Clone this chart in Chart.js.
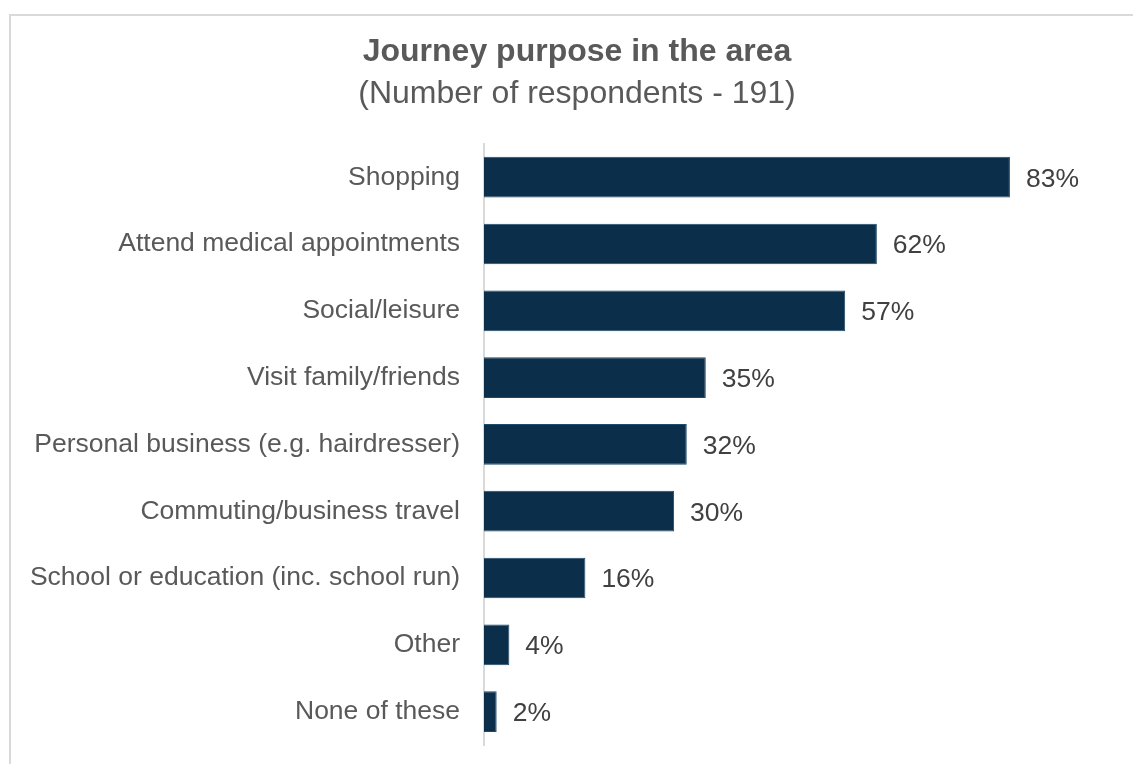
<!DOCTYPE html>
<html>
<head>
<meta charset="utf-8">
<title>Journey purpose in the area</title>
<script src="https://cdn.jsdelivr.net/npm/chart.js@4/dist/chart.umd.min.js"></script>
<style>
  html, body { margin: 0; padding: 0; background: #fff; overflow: hidden; }
  #wrap { position: relative; width: 1133px; height: 764px; }
  #frame {
    position: absolute; left: 9px; top: 14px; width: 1200px; height: 800px;
    border-left: 2px solid #d9d9d9; border-top: 2px solid #d9d9d9;
    pointer-events: none;
  }
</style>
</head>
<body>
<div id="wrap">
  <canvas id="purposeChart" width="1133" height="764"></canvas>
  <div id="frame"></div>
</div>
<script>
const categories = [
  "Shopping",
  "Attend medical appointments",
  "Social/leisure",
  "Visit family/friends",
  "Personal business (e.g. hairdresser)",
  "Commuting/business travel",
  "School or education (inc. school run)",
  "Other",
  "None of these",
];
const shares = [83, 62, 57, 35, 32, 30, 16, 4, 2];

const FONT = "'Liberation Sans', Arial, sans-serif";

// writes the percentage just right of each bar
const valueLabels = {
  id: "valueLabels",
  afterDatasetsDraw(chart) {
    const ctx = chart.ctx;
    const meta = chart.getDatasetMeta(0);
    ctx.save();
    ctx.font = "26.5px " + FONT;
    ctx.fillStyle = "#404040";
    ctx.textAlign = "left";
    ctx.textBaseline = "middle";
    meta.data.forEach((bar, i) => {
      ctx.fillText(shares[i] + "%", bar.x + 16, bar.y + 2);
    });
    ctx.restore();
  },
};

const ctx = document.getElementById("purposeChart").getContext("2d");
const purposeChart = new Chart(ctx, {
  type: "bar",
  data: {
    labels: categories,
    datasets: [
      {
        data: shares,
        backgroundColor: "#0b2f4b",
        borderColor: "#1f4a6a",
        borderWidth: 1,
        barPercentage: 0.61,
        categoryPercentage: 1,
      },
    ],
  },
  options: {
    indexAxis: "y",
    responsive: false,
    animation: false,
    layout: {
      padding: { left: 30, right: 9, top: 33, bottom: 19 },
    },
    scales: {
      x: {
        display: false,
        min: 0,
        max: 101,
      },
      y: {
        grid: { display: false, drawTicks: false },
        border: { display: true, color: "#d9d9d9", width: 2 },
        ticks: {
          color: "#595959",
          font: { family: FONT, size: 26.5 },
          padding: 24,
        },
        afterFit(scale) {
          scale.width = 454;
          // category labels sit between the bars, no overhang needed
          scale.paddingTop = 0;
          scale.paddingBottom = 0;
        },
      },
    },
    plugins: {
      legend: { display: false },
      tooltip: { enabled: false },
      title: {
        display: true,
        text: "Journey purpose in the area",
        color: "#595959",
        font: { family: FONT, size: 32, weight: "bold" },
        padding: { top: 0, bottom: 4 },
      },
      subtitle: {
        display: true,
        text: "(Number of respondents - 191)",
        color: "#595959",
        font: { family: FONT, size: 32 },
        padding: { top: 0, bottom: 30 },
      },
    },
  },
  plugins: [valueLabels],
});
</script>
</body>
</html>
